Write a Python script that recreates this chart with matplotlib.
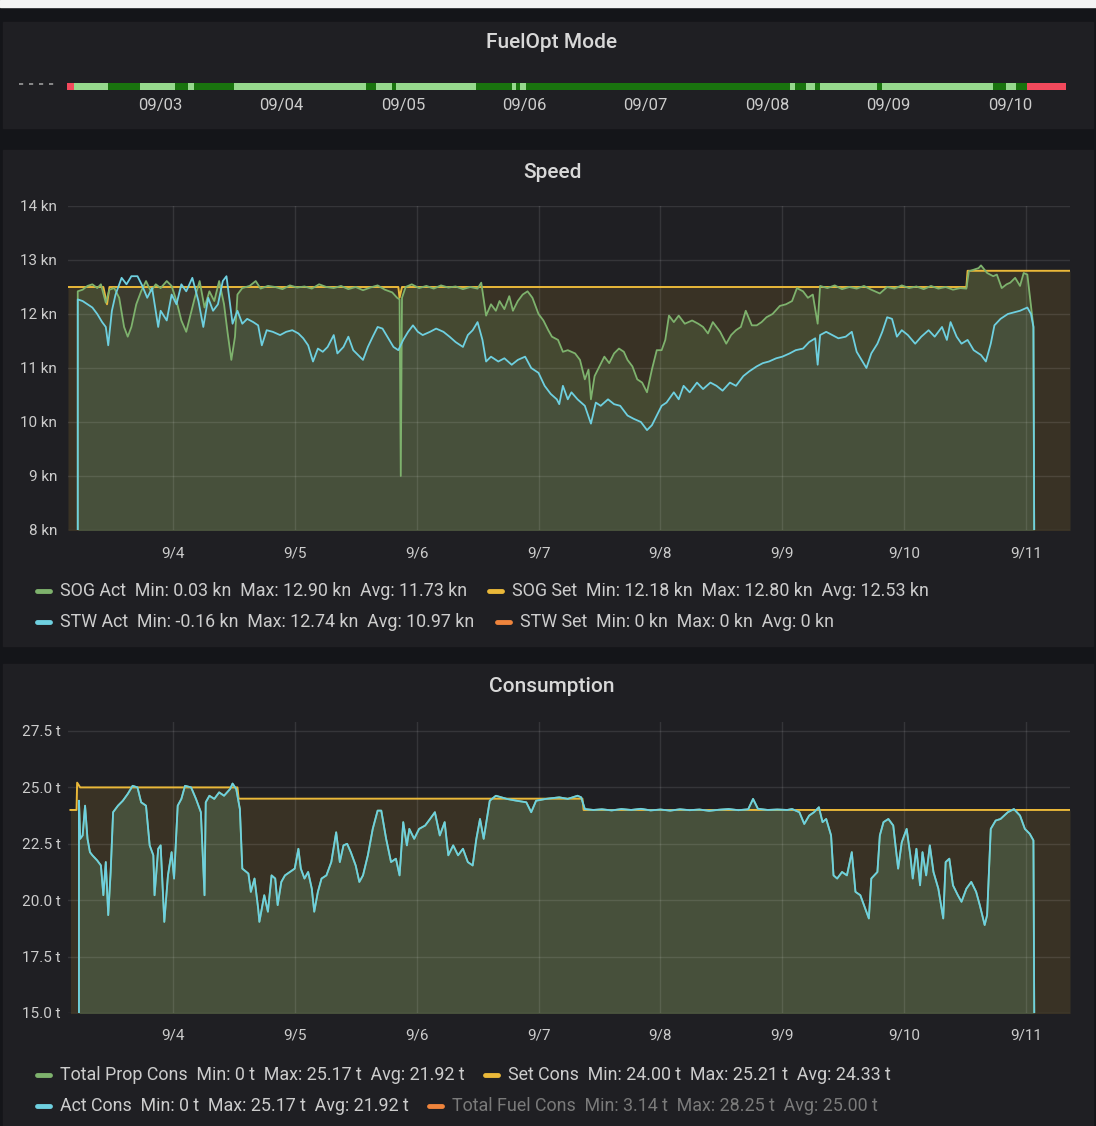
import matplotlib.pyplot as plt
from matplotlib.patches import Rectangle
from matplotlib.lines import Line2D

plt.rcParams['font.family'] = ['Roboto', 'DejaVu Sans']

# ---- data (x = day of September) ----
mode_edges = [2.234, 2.292, 2.572, 2.835, 3.124, 3.231, 3.280, 3.610, 4.697, 4.779,
              4.911, 4.944, 5.603, 5.900, 5.932, 5.965, 6.015, 8.190, 8.231, 8.321,
              8.395, 8.437, 8.906, 8.947, 9.862, 9.969, 10.051, 10.142, 10.463]
mode_state = [0, 1, 2, 1, 2, 1, 2, 1, 2, 1, 2, 1, 2, 1, 2, 1, 2, 1, 2, 1, 2, 1, 2, 1, 2, 1, 2, 0]
mode_ticks = [3, 4, 5, 6, 7, 8, 9, 10]
mode_labels = ['09/03', '09/04', '09/05', '09/06', '09/07', '09/08', '09/09', '09/10']

day_ticks = [4, 5, 6, 7, 8, 9, 10, 11]
day_labels = ['9/4', '9/5', '9/6', '9/7', '9/8', '9/9', '9/10', '9/11']

sog_act = [(3.22, 0.03), (3.22, 12.42), (3.26, 12.45), (3.30, 12.52), (3.34, 12.55), (3.38, 12.48),
           (3.41, 12.55), (3.45, 12.21), (3.48, 12.45), (3.52, 12.48), (3.56, 12.30), (3.60, 11.76),
           (3.63, 11.58), (3.66, 11.76), (3.70, 12.18), (3.74, 12.42), (3.78, 12.61), (3.82, 12.42),
           (3.86, 12.55), (3.90, 12.48), (3.95, 12.61), (3.99, 12.52), (4.03, 12.24), (4.07, 11.88),
           (4.11, 11.67), (4.14, 11.94), (4.18, 12.30), (4.22, 12.61), (4.26, 12.12), (4.30, 12.42),
           (4.34, 12.24), (4.38, 12.61), (4.42, 12.18), (4.45, 11.64), (4.48, 11.15), (4.51, 11.58),
           (4.53, 12.36), (4.57, 12.48), (4.63, 12.52), (4.68, 12.61), (4.72, 12.47), (4.78, 12.52),
           (4.84, 12.50), (4.90, 12.46), (4.96, 12.53), (5.02, 12.49), (5.08, 12.51), (5.14, 12.47),
           (5.20, 12.55), (5.26, 12.50), (5.32, 12.48), (5.38, 12.52), (5.44, 12.46), (5.50, 12.50),
           (5.56, 12.44), (5.62, 12.49), (5.68, 12.53), (5.74, 12.45), (5.80, 12.40), (5.84, 12.30),
           (5.86, 12.27), (5.87, 9.00), (5.88, 12.30), (5.91, 12.50), (5.96, 12.55), (6.02, 12.48),
           (6.08, 12.52), (6.14, 12.47), (6.20, 12.53), (6.26, 12.49), (6.32, 12.51), (6.38, 12.46),
           (6.44, 12.50), (6.50, 12.47), (6.53, 12.58), (6.57, 11.97), (6.61, 12.18), (6.65, 12.06),
           (6.68, 12.24), (6.72, 12.09), (6.76, 12.33), (6.79, 12.06), (6.83, 12.24), (6.87, 12.36),
           (6.91, 12.42), (6.95, 12.30), (7.00, 12.00), (7.04, 11.88), (7.08, 11.70), (7.11, 11.58),
           (7.16, 11.52), (7.20, 11.30), (7.24, 11.33), (7.30, 11.27), (7.34, 11.15), (7.38, 10.79),
           (7.41, 10.97), (7.43, 10.42), (7.46, 10.85), (7.50, 11.03), (7.54, 11.21), (7.58, 11.09),
           (7.62, 11.27), (7.66, 11.36), (7.70, 11.30), (7.73, 11.15), (7.77, 11.03), (7.81, 10.79),
           (7.85, 10.73), (7.89, 10.55), (7.93, 10.97), (7.97, 11.33), (8.01, 11.33), (8.04, 11.52),
           (8.07, 11.97), (8.11, 11.85), (8.15, 11.97), (8.20, 11.82), (8.26, 11.88), (8.31, 11.82),
           (8.35, 11.76), (8.39, 11.64), (8.43, 11.85), (8.49, 11.67), (8.54, 11.45), (8.58, 11.61),
           (8.62, 11.70), (8.66, 11.76), (8.70, 12.06), (8.75, 11.79), (8.79, 11.79), (8.83, 11.85),
           (8.87, 11.94), (8.92, 12.00), (8.98, 12.15), (9.03, 12.18), (9.08, 12.24), (9.12, 12.48),
           (9.17, 12.42), (9.21, 12.30), (9.25, 12.36), (9.29, 11.82), (9.31, 12.52), (9.37, 12.48),
           (9.43, 12.53), (9.49, 12.46), (9.55, 12.50), (9.61, 12.47), (9.67, 12.52), (9.73, 12.45),
           (9.80, 12.38), (9.86, 12.50), (9.92, 12.47), (9.98, 12.53), (10.04, 12.48), (10.10, 12.51),
           (10.16, 12.46), (10.22, 12.52), (10.28, 12.47), (10.34, 12.50), (10.40, 12.45), (10.46, 12.48),
           (10.51, 12.47), (10.53, 12.79), (10.61, 12.85), (10.63, 12.90), (10.68, 12.76), (10.73, 12.70),
           (10.76, 12.73), (10.80, 12.48), (10.84, 12.55), (10.87, 12.58), (10.91, 12.67), (10.95, 12.52),
           (10.98, 12.76), (11.01, 12.73), (11.06, 11.76), (11.08, 0.03)]

sog_set = [(3.14, 12.50), (3.43, 12.50), (3.46, 12.18), (3.48, 12.50), (5.85, 12.50), (5.86, 12.30),
           (5.88, 12.50), (10.51, 12.50), (10.52, 12.80), (11.36, 12.80)]

stw_act = [(3.22, 0.00), (3.22, 12.27), (3.26, 12.24), (3.30, 12.18), (3.34, 12.12), (3.38, 12.00),
           (3.42, 11.85), (3.45, 11.76), (3.47, 11.42), (3.50, 12.06), (3.53, 12.36), (3.58, 12.67),
           (3.62, 12.55), (3.66, 12.70), (3.71, 12.70), (3.75, 12.52), (3.79, 12.30), (3.83, 12.48),
           (3.88, 11.76), (3.90, 12.06), (3.95, 11.88), (3.99, 12.36), (4.03, 12.18), (4.07, 12.55),
           (4.11, 12.42), (4.16, 12.67), (4.21, 12.24), (4.25, 11.76), (4.29, 12.30), (4.33, 12.06),
           (4.37, 12.18), (4.41, 12.61), (4.44, 12.70), (4.47, 12.18), (4.49, 11.82), (4.53, 12.06),
           (4.57, 11.82), (4.61, 11.91), (4.66, 11.85), (4.70, 11.79), (4.73, 11.42), (4.77, 11.70),
           (4.82, 11.67), (4.88, 11.61), (4.93, 11.67), (4.98, 11.70), (5.03, 11.64), (5.07, 11.55),
           (5.11, 11.42), (5.15, 11.12), (5.19, 11.36), (5.23, 11.30), (5.27, 11.39), (5.32, 11.61),
           (5.35, 11.27), (5.40, 11.39), (5.44, 11.58), (5.48, 11.33), (5.52, 11.24), (5.56, 11.15),
           (5.60, 11.39), (5.64, 11.58), (5.68, 11.76), (5.72, 11.73), (5.76, 11.58), (5.81, 11.39),
           (5.85, 11.33), (5.89, 11.52), (5.93, 11.67), (5.97, 11.79), (6.01, 11.67), (6.05, 11.61),
           (6.11, 11.67), (6.16, 11.73), (6.22, 11.67), (6.27, 11.58), (6.32, 11.48), (6.38, 11.39),
           (6.42, 11.61), (6.46, 11.70), (6.50, 11.85), (6.54, 11.52), (6.57, 11.12), (6.61, 11.21),
           (6.67, 11.12), (6.72, 11.18), (6.78, 11.06), (6.83, 11.15), (6.89, 11.21), (6.94, 11.00),
           (7.00, 10.91), (7.05, 10.67), (7.10, 10.52), (7.15, 10.42), (7.17, 10.33), (7.20, 10.67),
           (7.24, 10.42), (7.27, 10.55), (7.32, 10.42), (7.38, 10.30), (7.43, 9.97), (7.47, 10.36),
           (7.51, 10.30), (7.57, 10.42), (7.62, 10.33), (7.67, 10.30), (7.73, 10.12), (7.78, 10.06),
           (7.84, 10.00), (7.89, 9.85), (7.93, 9.94), (7.97, 10.12), (8.01, 10.30), (8.05, 10.36),
           (8.11, 10.55), (8.15, 10.42), (8.19, 10.67), (8.24, 10.55), (8.30, 10.73), (8.35, 10.61),
           (8.41, 10.73), (8.46, 10.67), (8.51, 10.58), (8.57, 10.73), (8.62, 10.67), (8.68, 10.85),
           (8.73, 10.94), (8.79, 11.03), (8.84, 11.09), (8.89, 11.12), (8.95, 11.18), (9.00, 11.21),
           (9.06, 11.27), (9.11, 11.33), (9.17, 11.36), (9.22, 11.48), (9.27, 11.55), (9.29, 11.06),
           (9.31, 11.61), (9.36, 11.67), (9.41, 11.61), (9.46, 11.55), (9.52, 11.58), (9.57, 11.67),
           (9.61, 11.30), (9.65, 11.15), (9.69, 11.00), (9.73, 11.27), (9.78, 11.45), (9.82, 11.67),
           (9.86, 11.94), (9.90, 11.91), (9.94, 11.58), (9.98, 11.70), (10.03, 11.61), (10.09, 11.45),
           (10.14, 11.58), (10.20, 11.70), (10.25, 11.58), (10.31, 11.76), (10.35, 11.52), (10.38, 11.85),
           (10.43, 11.58), (10.47, 11.45), (10.52, 11.52), (10.57, 11.33), (10.63, 11.24), (10.67, 11.12),
           (10.71, 11.45), (10.74, 11.79), (10.79, 11.91), (10.85, 12.00), (10.90, 12.03), (10.95, 12.06),
           (11.01, 12.12), (11.04, 12.00), (11.06, 11.76), (11.08, -0.16)]

stw_set = [(3.22, 0.0), (11.08, 0.0)]

act_cons = [(3.23, 0.0), (3.23, 24.41), (3.24, 22.72), (3.26, 22.87), (3.28, 24.19), (3.30, 22.72),
            (3.32, 22.13), (3.34, 21.99), (3.38, 21.76), (3.41, 21.54), (3.43, 20.22), (3.45, 21.69),
            (3.47, 19.34), (3.49, 21.25), (3.51, 23.90), (3.55, 24.19), (3.59, 24.41), (3.63, 24.71),
            (3.67, 25.07), (3.71, 25.00), (3.74, 24.34), (3.78, 24.19), (3.81, 22.43), (3.84, 21.99),
            (3.85, 20.22), (3.88, 22.28), (3.90, 22.43), (3.93, 19.04), (3.96, 21.10), (3.99, 22.13),
            (4.01, 20.96), (4.04, 24.19), (4.07, 24.49), (4.10, 25.07), (4.15, 25.00), (4.19, 24.49),
            (4.23, 23.90), (4.26, 20.22), (4.27, 24.34), (4.30, 24.63), (4.34, 24.49), (4.38, 24.78),
            (4.42, 24.63), (4.47, 24.93), (4.49, 25.17), (4.52, 24.93), (4.55, 24.04), (4.57, 21.40),
            (4.62, 21.18), (4.64, 20.37), (4.67, 20.96), (4.70, 19.63), (4.71, 19.04), (4.75, 20.22),
            (4.78, 19.49), (4.81, 21.10), (4.84, 20.96), (4.86, 19.78), (4.89, 20.81), (4.92, 21.10),
            (4.96, 21.25), (5.00, 21.40), (5.03, 22.28), (5.05, 21.40), (5.08, 20.96), (5.11, 21.25),
            (5.14, 20.51), (5.16, 19.49), (5.19, 20.37), (5.22, 20.96), (5.26, 21.10), (5.30, 21.69),
            (5.34, 23.01), (5.37, 21.69), (5.40, 22.43), (5.43, 22.50), (5.46, 22.13), (5.50, 21.54),
            (5.53, 20.81), (5.56, 21.10), (5.60, 21.99), (5.64, 23.16), (5.68, 23.97), (5.71, 23.97),
            (5.75, 22.72), (5.79, 21.69), (5.83, 21.84), (5.86, 21.10), (5.89, 23.46), (5.92, 22.43),
            (5.94, 23.16), (5.98, 22.72), (6.02, 23.16), (6.07, 23.31), (6.11, 23.60), (6.15, 23.90),
            (6.19, 22.87), (6.23, 23.46), (6.26, 21.99), (6.30, 22.43), (6.34, 21.99), (6.38, 22.28),
            (6.42, 21.69), (6.46, 21.54), (6.49, 22.72), (6.52, 23.60), (6.55, 22.72), (6.60, 24.41),
            (6.65, 24.63), (6.74, 24.49), (6.82, 24.41), (6.90, 24.34), (6.94, 23.90), (6.98, 24.41),
            (7.06, 24.49), (7.17, 24.56), (7.24, 24.49), (7.32, 24.63), (7.35, 24.56), (7.38, 24.04),
            (7.45, 24.00), (7.52, 24.03), (7.60, 23.98), (7.68, 24.04), (7.76, 24.00), (7.84, 24.05),
            (7.92, 23.98), (8.00, 24.02), (8.08, 23.97), (8.16, 24.03), (8.24, 23.99), (8.32, 24.02),
            (8.40, 23.96), (8.48, 24.01), (8.56, 24.04), (8.64, 23.99), (8.72, 24.03), (8.76, 24.49),
            (8.80, 24.05), (8.88, 24.00), (8.96, 24.02), (9.04, 24.00), (9.08, 24.04), (9.14, 23.90),
            (9.18, 23.38), (9.22, 23.75), (9.26, 23.90), (9.30, 24.12), (9.33, 23.46), (9.36, 23.60),
            (9.40, 22.87), (9.42, 21.10), (9.45, 20.96), (9.49, 21.25), (9.53, 21.10), (9.57, 22.13),
            (9.60, 20.37), (9.64, 20.22), (9.68, 19.63), (9.71, 19.19), (9.73, 20.96), (9.78, 21.25),
            (9.80, 22.87), (9.83, 23.46), (9.87, 23.60), (9.91, 23.31), (9.95, 21.40), (9.98, 22.57),
            (10.02, 23.16), (10.05, 21.99), (10.07, 20.96), (10.10, 22.28), (10.13, 20.66), (10.15, 22.13),
            (10.18, 21.10), (10.21, 22.43), (10.24, 21.25), (10.28, 20.51), (10.32, 19.19), (10.34, 21.69),
            (10.37, 21.84), (10.40, 20.66), (10.44, 20.22), (10.47, 19.93), (10.51, 20.51), (10.55, 20.81),
            (10.59, 20.37), (10.62, 19.78), (10.66, 18.90), (10.68, 19.34), (10.71, 23.16), (10.75, 23.53),
            (10.79, 23.60), (10.85, 23.90), (10.90, 24.04), (10.95, 23.75), (10.99, 23.16), (11.03, 22.94),
            (11.06, 22.65), (11.08, 0.0)]

set_cons = [(3.16, 24.00), (3.21, 24.00), (3.215, 25.21), (3.24, 25.00), (4.53, 25.00),
            (4.54, 24.50), (7.36, 24.50), (7.37, 24.00), (11.36, 24.00)]

speed_legend = [('SOG Act  Min: 0.03 kn  Max: 12.90 kn  Avg: 11.73 kn', 'green'),
                ('SOG Set  Min: 12.18 kn  Max: 12.80 kn  Avg: 12.53 kn', 'yellow'),
                ('STW Act  Min: -0.16 kn  Max: 12.74 kn  Avg: 10.97 kn', 'cyan'),
                ('STW Set  Min: 0 kn  Max: 0 kn  Avg: 0 kn', 'orange')]
cons_legend = [('Total Prop Cons  Min: 0 t  Max: 25.17 t  Avg: 21.92 t', 'green'),
               ('Set Cons  Min: 24.00 t  Max: 25.21 t  Avg: 24.33 t', 'yellow'),
               ('Act Cons  Min: 0 t  Max: 25.17 t  Avg: 21.92 t', 'cyan'),
               ('Total Fuel Cons  Min: 3.14 t  Max: 28.25 t  Avg: 25.00 t', 'orange')]

# ---- styling ----
C = {'green': '#7EB26D', 'yellow': '#EAB839', 'cyan': '#6ED0E0', 'orange': '#EF843C'}
MODE_COLORS = {0: '#F2495C', 1: '#96D98D', 2: '#19730E'}
BG = '#141519'
PANEL = '#1f1f23'
TXT = '#cccccc'

W, H = 1096, 1126
fig = plt.figure(figsize=(W / 100, H / 100), dpi=100)
fig.patch.set_facecolor(BG)


def fx(x):
    return x / W


def fy(y):
    return 1 - y / H


def rect(x0, y0, x1, y1):
    return [fx(x0), fy(y1), (x1 - x0) / W, (y1 - y0) / H]


def panel(x0, y0, x1, y1, color=PANEL):
    fig.add_artist(Rectangle((fx(x0), fy(y1)), (x1 - x0) / W, (y1 - y0) / H,
                             transform=fig.transFigure, color=color, zorder=0))


panel(0, 0, W, 7, '#f4f4f4')
panel(3, 22, 1093, 128)
panel(3, 150, 1093, 646)
panel(3, 664, 1093, 1126)

for title, y in [('FuelOpt Mode', 43), ('Speed', 172), ('Consumption', 686)]:
    fig.text(fx(552), fy(y), title, color='#d8d8d8', fontsize=15, fontweight='medium',
             ha='center', va='center')

# ---- FuelOpt Mode timeline ----
ax0 = fig.add_axes(rect(62, 83, 1070, 90))
ax0.set_facecolor('none')
for i, s in enumerate(mode_state):
    ax0.broken_barh([(mode_edges[i], mode_edges[i + 1] - mode_edges[i])], (0, 1),
                    facecolor=MODE_COLORS[s], edgecolor='none')
ax0.set_xlim(2.193, 10.496)
ax0.set_ylim(0, 1)
ax0.set_yticks([])
ax0.set_xticks(mode_ticks)
ax0.set_xticklabels(mode_labels)
ax0.tick_params(colors=TXT, labelsize=12, length=0, pad=6)
for sp in ax0.spines.values():
    sp.set_visible(False)
fig.add_artist(Line2D([fx(19), fx(57)], [fy(84), fy(84)], transform=fig.transFigure,
                      color='#9a9a9a', lw=1.2, ls=(0, (2.5, 3.5))))


def style_axes(ax):
    ax.set_facecolor('none')
    for sp in ax.spines.values():
        sp.set_visible(False)
    ax.set_axisbelow(False)
    ax.grid(True, color='white', alpha=0.1, lw=1)
    ax.tick_params(colors=TXT, labelsize=11, length=0)
    ax.set_xlim(3.14, 11.36)
    ax.set_xticks(day_ticks)
    ax.set_xticklabels(day_labels)


def series(ax, pts, color, fill_alpha, lw=1.3):
    xs = [p[0] for p in pts]
    ys = [p[1] for p in pts]
    ax.fill_between(xs, ys, 0, color=C[color], alpha=fill_alpha, lw=0, zorder=1)
    ax.plot(xs, ys, color=C[color], lw=lw, zorder=3)


# ---- Speed ----
ax1 = fig.add_axes(rect(68, 206, 1070, 530))
style_axes(ax1)
series(ax1, stw_set, 'orange', 0.1)
series(ax1, sog_set, 'yellow', 0.13, lw=1.4)
series(ax1, sog_act, 'green', 0.18)
series(ax1, stw_act, 'cyan', 0.06)
ax1.set_ylim(8, 14)
ax1.set_yticks(range(8, 15))
ax1.set_yticklabels([f'{v} kn' for v in range(8, 15)])
ax1.tick_params(axis='y', pad=8)
ax1.tick_params(axis='x', pad=12)

# ---- Consumption ----
ax2 = fig.add_axes(rect(68, 722, 1070, 1013))
style_axes(ax2)
series(ax2, set_cons, 'yellow', 0.13, lw=1.4)
series(ax2, act_cons, 'green', 0.18)
series(ax2, act_cons, 'cyan', 0.06)
ax2.set_ylim(15, 15 + 291 / 22.56)
yt = [15, 17.5, 20, 22.5, 25, 27.5]
ax2.set_yticks(yt)
ax2.set_yticklabels([f'{v:.1f} t' for v in yt])
ax2.tick_params(axis='y', pad=5)
ax2.tick_params(axis='x', pad=11.5)


# ---- legends ----
def legend_item(x, y, label, color, text_color=TXT):
    fig.add_artist(Line2D([fx(x), fx(x + 13)], [fy(y), fy(y)], transform=fig.transFigure,
                          color=C[color], lw=3.5, solid_capstyle='round'))
    fig.text(fx(x + 23), fy(y), label, color=text_color, fontsize=12.9, va='center', ha='left')


legend_item(37, 591, *speed_legend[0])
legend_item(489, 591, *speed_legend[1])
legend_item(37, 622, *speed_legend[2])
legend_item(497, 622, *speed_legend[3])
legend_item(37, 1075, *cons_legend[0])
legend_item(485, 1075, *cons_legend[1])
legend_item(37, 1106, *cons_legend[2])
legend_item(429, 1106, *cons_legend[3], text_color='#7a7a7a')

fig.savefig('out.png', dpi=100, facecolor=fig.get_facecolor())
